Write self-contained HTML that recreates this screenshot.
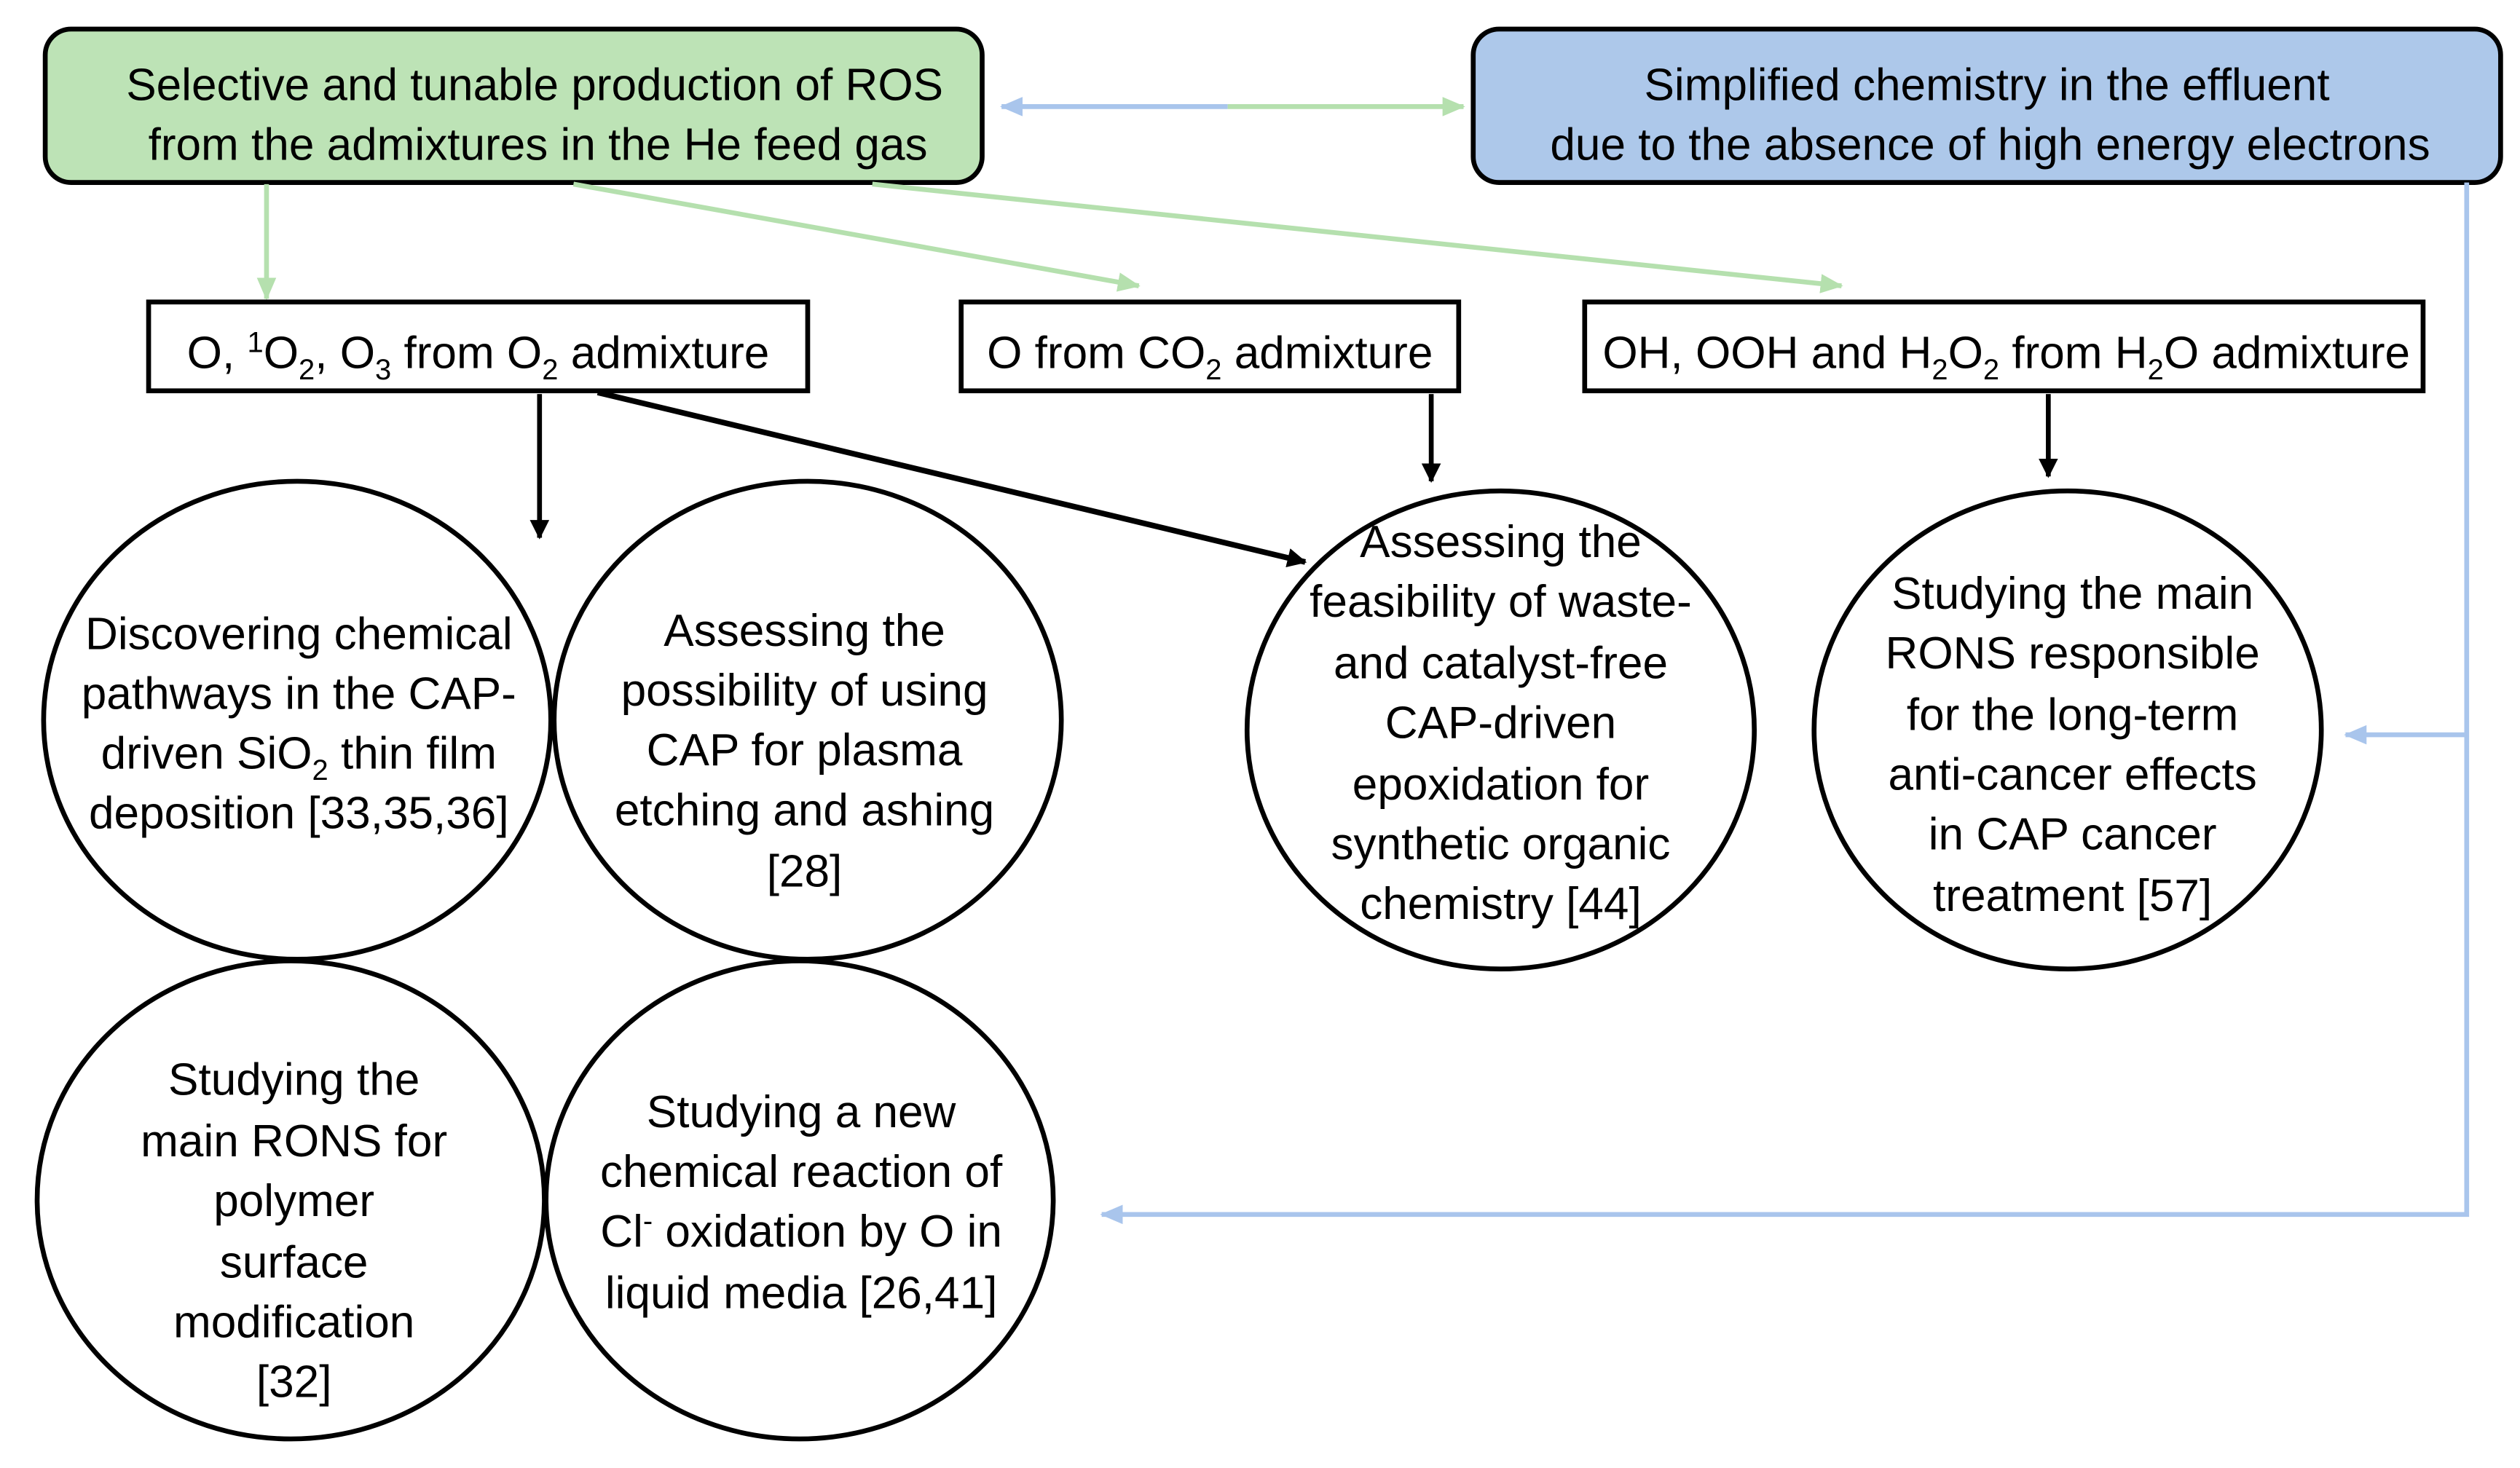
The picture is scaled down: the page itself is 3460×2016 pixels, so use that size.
<!DOCTYPE html>
<html><head><meta charset="utf-8"><style>
html,body{margin:0;padding:0;background:#fff;}
svg{display:block;}
text{font-family:"Liberation Sans",sans-serif;font-size:28px;fill:#000;}
</style></head><body>
<svg width="3460" height="2016" viewBox="0 0 1560 909" preserveAspectRatio="none" xmlns="http://www.w3.org/2000/svg">
<defs>
<marker id="agL" markerWidth="14" markerHeight="12" refX="13" refY="6" orient="auto" markerUnits="userSpaceOnUse"><path d="M0,0 L14,6 L0,12 Z" fill="#b5e0ae"/></marker>
<marker id="ab" markerWidth="14" markerHeight="12" refX="13" refY="6" orient="auto" markerUnits="userSpaceOnUse"><path d="M0,0 L14,6 L0,12 Z" fill="#a9c5ec"/></marker>
<marker id="ak" markerWidth="12" markerHeight="12" refX="11" refY="6" orient="auto" markerUnits="userSpaceOnUse"><path d="M0,0 L12,6 L0,12 Z" fill="#000"/></marker>
</defs>
<rect x="28" y="18" width="580" height="95" rx="16" fill="#bde3b6" stroke="#000" stroke-width="3"/>
<text x="331" y="62" text-anchor="middle">Selective and tunable production of ROS</text>
<text x="333" y="99" text-anchor="middle">from the admixtures in the He feed gas</text>
<rect x="912" y="18" width="636" height="95" rx="16" fill="#adc8ea" stroke="#000" stroke-width="3"/>
<text x="1230" y="62" text-anchor="middle">Simplified chemistry in the effluent</text>
<text x="1232" y="99" text-anchor="middle">due to the absence of high energy electrons</text>
<line x1="760" y1="66" x2="620" y2="66" stroke="#a9c5ec" stroke-width="3" marker-end="url(#ab)"/>
<line x1="760" y1="66" x2="906" y2="66" stroke="#b5e0ae" stroke-width="3" marker-end="url(#agL)"/>
<line x1="165" y1="114" x2="165" y2="185" stroke="#b5e0ae" stroke-width="3" marker-end="url(#agL)"/>
<line x1="355" y1="114" x2="705" y2="177" stroke="#b5e0ae" stroke-width="3" marker-end="url(#agL)"/>
<line x1="540" y1="114" x2="1140" y2="177" stroke="#b5e0ae" stroke-width="3" marker-end="url(#agL)"/>
<rect x="92" y="187" width="408" height="55" fill="#fff" stroke="#000" stroke-width="3"/>
<text x="296" y="228" text-anchor="middle">O, <tspan font-size="18" dy="-10">1</tspan><tspan dy="10">O</tspan><tspan font-size="18" dy="7">2</tspan><tspan dy="-7">, O</tspan><tspan font-size="18" dy="7">3</tspan><tspan dy="-7"> from O</tspan><tspan font-size="18" dy="7">2</tspan><tspan dy="-7"> admixture</tspan></text>
<rect x="595" y="187" width="308" height="55" fill="#fff" stroke="#000" stroke-width="3"/>
<text x="749" y="228" text-anchor="middle">O from CO<tspan font-size="18" dy="7">2</tspan><tspan dy="-7"> admixture</tspan></text>
<rect x="981" y="187" width="519" height="55" fill="#fff" stroke="#000" stroke-width="3"/>
<text x="1242" y="228" text-anchor="middle">OH, OOH and H<tspan font-size="18" dy="7">2</tspan><tspan dy="-7">O</tspan><tspan font-size="18" dy="7">2</tspan><tspan dy="-7"> from H</tspan><tspan font-size="18" dy="7">2</tspan><tspan dy="-7">O admixture</tspan></text>
<line x1="334" y1="244" x2="334" y2="333" stroke="#000" stroke-width="3" marker-end="url(#ak)"/>
<line x1="370" y1="243" x2="808" y2="348" stroke="#000" stroke-width="3.5" marker-end="url(#ak)"/>
<line x1="886" y1="244" x2="886" y2="298" stroke="#000" stroke-width="3" marker-end="url(#ak)"/>
<line x1="1268" y1="244" x2="1268" y2="295" stroke="#000" stroke-width="3" marker-end="url(#ak)"/>
<polyline points="1527,113 1527,752 682,752" fill="none" stroke="#a9c5ec" stroke-width="3" marker-end="url(#ab)"/>
<line x1="1527" y1="455" x2="1452" y2="455" stroke="#a9c5ec" stroke-width="3" marker-end="url(#ab)"/>
<g fill="#fff" stroke="#000" stroke-width="3">
<ellipse cx="184" cy="446" rx="157" ry="148"/>
<ellipse cx="500" cy="446" rx="157" ry="148"/>
<ellipse cx="929" cy="452" rx="157" ry="148"/>
<ellipse cx="1280" cy="452" rx="157" ry="148"/>
<ellipse cx="180" cy="743" rx="157" ry="148"/>
<ellipse cx="495" cy="743" rx="157" ry="148"/>
</g>
<g text-anchor="middle">
<text x="185" y="402">Discovering chemical</text>
<text x="185" y="439">pathways in the CAP-</text>
<text x="185" y="476">driven SiO<tspan font-size="18" dy="7">2</tspan><tspan dy="-7"> thin film</tspan></text>
<text x="185" y="513">deposition [33,35,36]</text>

<text x="498" y="400">Assessing the</text>
<text x="498" y="437">possibility of using</text>
<text x="498" y="474">CAP for plasma</text>
<text x="498" y="511">etching and ashing</text>
<text x="498" y="549">[28]</text>

<text x="929" y="345">Assessing the</text>
<text x="929" y="382">feasibility of waste-</text>
<text x="929" y="420">and catalyst-free</text>
<text x="929" y="457">CAP-driven</text>
<text x="929" y="495">epoxidation for</text>
<text x="929" y="532">synthetic organic</text>
<text x="929" y="569">chemistry [44]</text>

<text x="1283" y="377">Studying the main</text>
<text x="1283" y="414">RONS responsible</text>
<text x="1283" y="452">for the long-term</text>
<text x="1283" y="489">anti-cancer effects</text>
<text x="1283" y="526">in CAP cancer</text>
<text x="1283" y="564">treatment [57]</text>

<text x="182" y="678">Studying the</text>
<text x="182" y="716">main RONS for</text>
<text x="182" y="753">polymer</text>
<text x="182" y="791">surface</text>
<text x="182" y="828">modification</text>
<text x="182" y="865">[32]</text>

<text x="496" y="698">Studying a new</text>
<text x="496" y="735">chemical reaction of</text>
<text x="496" y="772">Cl<tspan font-size="18" dy="-10">-</tspan><tspan dy="10"> oxidation by O in</tspan></text>
<text x="496" y="810">liquid media [26,41]</text>
</g>
</svg>
</body></html>
